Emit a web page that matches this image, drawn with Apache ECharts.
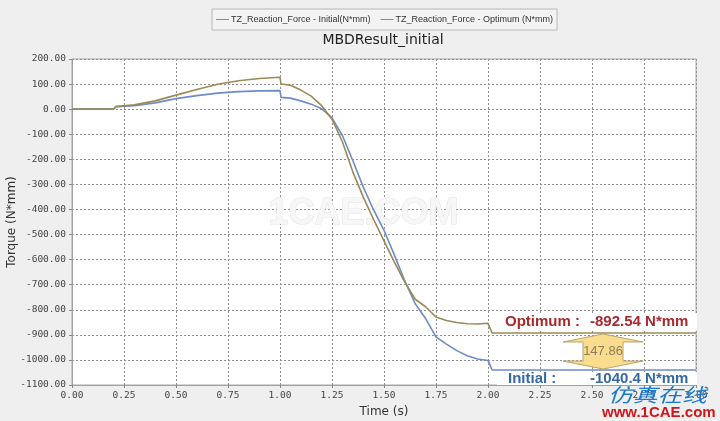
<!DOCTYPE html>
<html>
<head>
<meta charset="utf-8">
<script src="https://cdn.jsdelivr.net/npm/echarts@6/dist/echarts.min.js"></script>
<style>
html,body{margin:0;padding:0;background:#efefef;}
#c{width:720px;height:421px;}
</style>
</head>
<body>
<div id="c"></div>
<script>
// ---- data ----
const timeS = [0, 0.2, 0.21, 0.3, 0.4, 0.5, 0.6, 0.7, 0.8, 0.9, 1.0, 1.005, 1.05, 1.1, 1.15, 1.2, 1.25, 1.3, 1.35, 1.4, 1.45, 1.5, 1.55, 1.6, 1.65, 1.7, 1.75, 1.8, 1.85, 1.9, 1.95, 2.0, 2.02, 2.5, 3.0];
const initialTorque = [0, 0, 10, 14, 25, 42, 54, 64, 70, 73, 74, 47, 44, 33, 20, 2, -35, -105, -205, -310, -402, -483, -582, -685, -776, -835, -908, -937, -963, -983, -996, -1002, -1040.4, -1040.4, -1040.4];
const optimumTorque = [0, 0, 10, 17, 33, 56, 78, 99, 113, 122, 127, 100, 95, 76, 52, 14, -40, -130, -250, -350, -440, -525, -610, -690, -758, -788, -829, -843, -851, -856, -857, -854, -892.54, -892.54, -892.54];
const xTicks = [0, 0.25, 0.5, 0.75, 1.0, 1.25, 1.5, 1.75, 2.0, 2.25, 2.5, 2.75, 3.0];
const yTicks = [200, 100, 0, -100, -200, -300, -400, -500, -600, -700, -800, -900, -1000, -1100];
const seriesNames = ['TZ_Reaction_Force - Initial(N*mm)', 'TZ_Reaction_Force - Optimum (N*mm)'];
const optimumFinal = -892.54;
const initialFinal = -1040.4;
const finalDifference = 147.86;
const annotationTime = 2.553;

const chart = echarts.init(document.getElementById('c'), null, {renderer: 'canvas'});
const pair = (xs, ys) => xs.map((x, i) => [x, ys[i]]);
const monoFont = '"DejaVu Sans Mono", monospace';

const option = {
  backgroundColor: '#efefef',
  animation: false,
  title: {
    text: 'MBDResult_initial',
    top: 33,
    left: 383,
    textAlign: 'center',
    padding: 0,
    textStyle: {fontFamily: '"DejaVu Sans", sans-serif', fontSize: 14, fontWeight: 'normal', color: '#222'}
  },
  legend: {
    top: 9,
    left: 212,
    orient: 'horizontal',
    padding: [6, 4, 6, 4],
    itemGap: 10,
    itemWidth: 13,
    itemHeight: 8,
    borderColor: '#b8b8b8',
    borderWidth: 1,
    backgroundColor: '#f3f3f3',
    icon: 'path://M0,3.5 L13,3.5 L13,4.5 L0,4.5 Z',
    textStyle: {fontFamily: '"Liberation Sans", sans-serif', fontSize: 9, color: '#333', padding: [0, 0, 0, -3]},
    data: seriesNames
  },
  grid: {left: 72, right: 24, top: 59, bottom: 36, outerBoundsMode: 'none', containLabel: false,
    show: true, backgroundColor: '#ffffff', borderColor: '#a8a8a8', borderWidth: 1},
  xAxis: {
    type: 'value', min: 0, max: 3, interval: 0.25,
    name: 'Time (s)', nameLocation: 'middle', nameGap: 21, nameMoveOverlap: false,
    nameTextStyle: {fontFamily: '"DejaVu Sans", sans-serif', fontSize: 12, color: '#333'},
    axisLine: {show: true, onZero: false, lineStyle: {color: '#a0a0a0'}},
    axisTick: {show: true, length: 3, lineStyle: {color: '#888'}},
    axisLabel: {margin: 6, fontFamily: monoFont, fontSize: 9.5, color: '#444',
      formatter: v => xTicks.includes(+v.toFixed(2)) ? v.toFixed(2) : ''},
    splitLine: {show: true, lineStyle: {type: [2, 2], color: '#909090', width: 1}}
  },
  yAxis: {
    type: 'value', min: -1100, max: 200, interval: 100,
    name: 'Torque (N*mm)', nameLocation: 'middle', nameGap: 54, nameRotate: 90, nameMoveOverlap: false,
    nameTextStyle: {fontFamily: '"DejaVu Sans", sans-serif', fontSize: 12, color: '#333'},
    axisLine: {show: true, onZero: false, lineStyle: {color: '#a0a0a0'}},
    axisTick: {show: true, length: 3, lineStyle: {color: '#888'}},
    axisLabel: {margin: 6, fontFamily: monoFont, fontSize: 9.5, color: '#444',
      formatter: v => yTicks.includes(v) ? v.toFixed(2) : ''},
    splitLine: {show: true, lineStyle: {type: [2, 2], color: '#909090', width: 1}}
  },
  graphic: {
    elements: [
      {type: 'text', left: 268, top: 196, z: 1, silent: true,
        style: {text: '1CAE.COM', font: 'bold 36px "Liberation Sans", sans-serif', fill: '#f7f7f7', stroke: 'rgba(190,190,190,0.45)', lineWidth: 1}},
      {type: 'text', x: 608, y: 385, scaleX: 1.3, z: 10,
        style: {text: '仿真在线', font: 'italic 19px "Noto Sans CJK SC"', fill: '#1c78c8'}},
      {type: 'text', left: 602, top: 405, z: 10,
        style: {text: 'www.1CAE.com', font: 'bold 15px "Liberation Sans", sans-serif', fill: '#d0161a'}}
    ]
  },
  series: [
    {name: seriesNames[0], type: 'line', data: pair(timeS, initialTorque), showSymbol: false, symbol: 'none',
      lineStyle: {color: '#6d8cc6', width: 1.6}, itemStyle: {color: '#6d8cc6'}, z: 3},
    {name: seriesNames[1], type: 'line', data: pair(timeS, optimumTorque), showSymbol: false, symbol: 'none',
      lineStyle: {color: '#9a8a55', width: 1.6}, itemStyle: {color: '#9a8a55'}, z: 3},
    {
      type: 'custom', z: 5, silent: true,
      data: [[annotationTime, optimumFinal, initialFinal, finalDifference]],
      renderItem: function (params, api) {
        const top = api.coord([api.value(0), api.value(1)]);
        const bot = api.coord([api.value(0), api.value(2)]);
        const cx = top[0];
        const hw = 40, bw = 20, hh = 9;
        const pts = [
          [cx, top[1] + 1], [cx + hw, top[1] + hh], [cx + bw, top[1] + hh], [cx + bw, bot[1] - hh],
          [cx + hw, bot[1] - hh], [cx, bot[1] - 1], [cx - hw, bot[1] - hh], [cx - bw, bot[1] - hh],
          [cx - bw, top[1] + hh], [cx - hw, top[1] + hh]
        ];
        const labelX = cx - 98, valueX = cx - 13;
        return {
          type: 'group',
          children: [
            {type: 'rect', shape: {x: labelX - 8, y: top[1] - 20, width: 200, height: 18}, style: {fill: '#ffffff'}},
            {type: 'rect', shape: {x: labelX - 8, y: bot[1] + 2, width: 200, height: 13}, style: {fill: '#ffffff'}},
            {type: 'polygon', shape: {points: pts}, style: {fill: '#f9dc8e', stroke: '#b9a46a', lineWidth: 1}},
            {type: 'text', style: {text: api.value(3).toFixed(2), x: cx, y: (top[1] + bot[1]) / 2, align: 'center', verticalAlign: 'middle',
              font: '13px "Liberation Sans", sans-serif', fill: '#8d7d58'}},
            {type: 'text', style: {text: 'Optimum :', x: labelX, y: top[1] - 11, verticalAlign: 'middle',
              font: 'bold 15px "Liberation Sans", sans-serif', fill: '#a8282c'}},
            {type: 'text', style: {text: api.value(1).toFixed(2) + ' N*mm', x: valueX, y: top[1] - 11, verticalAlign: 'middle',
              font: 'bold 15px "Liberation Sans", sans-serif', fill: '#a8282c'}},
            {type: 'text', style: {text: 'Initial :', x: labelX + 3, y: bot[1] + 9, verticalAlign: 'middle',
              font: 'bold 15px "Liberation Sans", sans-serif', fill: '#3569a3'}},
            {type: 'text', style: {text: api.value(2).toFixed(1) + ' N*mm', x: valueX, y: bot[1] + 9, verticalAlign: 'middle',
              font: 'bold 15px "Liberation Sans", sans-serif', fill: '#3569a3'}}
          ]
        };
      }
    }
  ]
};
chart.setOption(option);
</script>
</body>
</html>
